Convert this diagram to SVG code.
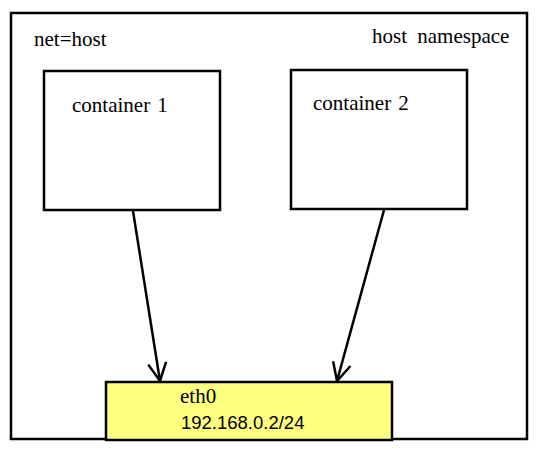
<svg xmlns="http://www.w3.org/2000/svg" width="539" height="452" viewBox="0 0 539 452">
<style>
.box{fill:#fff;stroke:#000;stroke-width:2.5}
.serif{font-family:"Liberation Serif","DejaVu Serif",serif;font-size:21px;fill:#000}
.sans{font-family:"Liberation Sans","DejaVu Sans",sans-serif;font-size:18.5px;fill:#000}
.conn{stroke:#000;stroke-width:2.5;fill:none}
</style>
<defs>
<marker id="arr" viewBox="0 0 22 22" refX="20" refY="11" markerWidth="22" markerHeight="22" markerUnits="userSpaceOnUse" orient="auto">
<path d="M2,2 L20,11 L2,20" fill="none" stroke="#000" stroke-width="2.5"/>
</marker>
</defs>
<g id="host-namespace">
<rect class="box" x="11" y="13" width="516" height="426"/>
<text class="serif" x="34" y="46">net=host</text>
<text class="serif" x="372" y="43" word-spacing="5">host namespace</text>
</g>
<g id="container1">
<rect class="box" x="44" y="71" width="176" height="139"/>
<text class="serif" x="72" y="112" word-spacing="2">container 1</text>
</g>
<g id="container2">
<rect class="box" x="291" y="70" width="176" height="139"/>
<text class="serif" x="313" y="110" word-spacing="2">container 2</text>
</g>
<g id="eth0">
<rect x="106" y="382" width="286" height="58" fill="#ffff80" stroke="#000" stroke-width="2.5"/>
<text class="serif" x="180" y="403">eth0</text>
<text class="sans" x="181" y="429">192.168.0.2/24</text>
</g>
<g id="connectors">
<line class="conn" x1="133" y1="211" x2="160" y2="381" marker-end="url(#arr)"/>
<line class="conn" x1="384" y1="210" x2="337" y2="381" marker-end="url(#arr)"/>
</g>
</svg>
